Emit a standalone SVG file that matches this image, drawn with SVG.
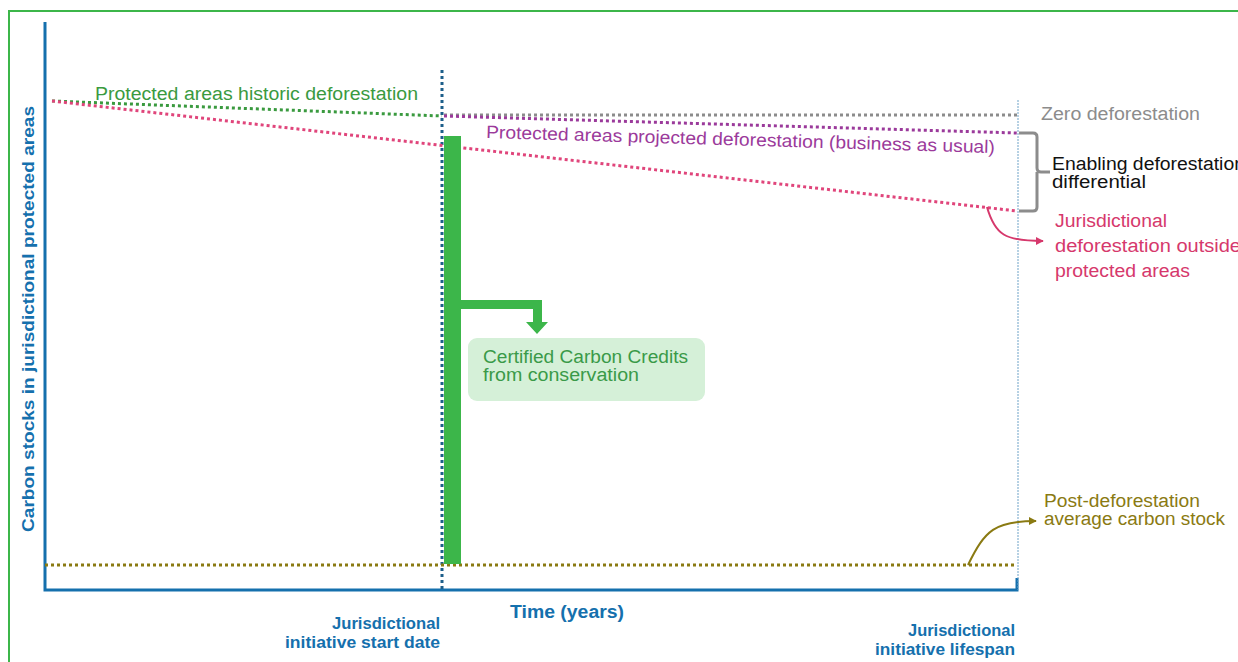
<svg xmlns="http://www.w3.org/2000/svg" width="1238" height="662" viewBox="0 0 1238 662">
<style>
text{font-family:"Liberation Sans",Arial,sans-serif}
.dot{fill:none;stroke-width:3;stroke-dasharray:3 3}
.ax{fill:none;stroke:#1570ad;stroke-width:3}
.blue{fill:#1570ad;font-weight:bold}
</style>
<defs>
<marker id="ap" viewBox="0 0 10 10" refX="9" refY="5" markerWidth="4" markerHeight="4" orient="auto"><path d="M0,0L10,5L0,10z" fill="#d6386c"/></marker>
<marker id="ao" viewBox="0 0 10 10" refX="9" refY="5" markerWidth="4" markerHeight="4" orient="auto"><path d="M0,0L10,5L0,10z" fill="#8a7a12"/></marker>
</defs>
<rect width="1238" height="662" fill="#fff"/>
<g id="frame"><path d="M9,662V11H1238" fill="none" stroke="#3cb64a" stroke-width="2"/></g>
<g id="axes">
<path class="ax" d="M45,22V590H1017V578"/>
<text class="blue" font-size="17" transform="translate(34,319) rotate(-90)" text-anchor="middle" textLength="426" lengthAdjust="spacingAndGlyphs">Carbon stocks in jurisdictional protected areas</text>
<text class="blue" font-size="18" x="567" y="618" text-anchor="middle" textLength="114" lengthAdjust="spacingAndGlyphs">Time (years)</text>
<text class="blue" font-size="16" text-anchor="end"><tspan x="440" y="629" textLength="108" lengthAdjust="spacingAndGlyphs">Jurisdictional</tspan><tspan x="440" y="648" textLength="155" lengthAdjust="spacingAndGlyphs">initiative start date</tspan></text>
<text class="blue" font-size="16" text-anchor="end"><tspan x="1015" y="636" textLength="107" lengthAdjust="spacingAndGlyphs">Jurisdictional</tspan><tspan x="1015" y="655" textLength="140" lengthAdjust="spacingAndGlyphs">initiative lifespan</tspan></text>
</g>
<g id="connectors">
<line x1="442" y1="70" x2="442" y2="590" stroke="#1d5f8a" stroke-width="3" stroke-dasharray="3 3"/>
<line x1="1018" y1="100" x2="1018" y2="590" stroke="#6fa3c8" stroke-width="1" stroke-dasharray="2 1"/>
<line class="dot" x1="52" y1="101" x2="442" y2="116" stroke="#3a9a3f"/>
<line class="dot" x1="444" y1="115" x2="1017" y2="115" stroke="#8c8c8c"/>
<line class="dot" x1="444" y1="116" x2="1017" y2="133" stroke="#9b3a9b"/>
<line class="dot" x1="52" y1="101" x2="1017" y2="211" stroke="#e0457b"/>
<line class="dot" x1="45" y1="565" x2="1017" y2="565" stroke="#8a7a12"/>
<path d="M1019,133H1033Q1037,133 1037,137V168Q1037,172 1041,172H1050M1037,172Q1037,176 1037,180V207Q1037,211 1033,211H1019" fill="none" stroke="#8c8c8c" stroke-width="3"/>
<path d="M987,207C995,235 1005,241 1043,241" fill="none" stroke="#d6386c" stroke-width="2" marker-end="url(#ap)"/>
<path d="M968,565C985,530 995,521 1036,521" fill="none" stroke="#8a7a12" stroke-width="2" marker-end="url(#ao)"/>
</g>
<g id="bar"><rect x="444" y="136" width="17" height="428" fill="#3cb64a"/>
<path d="M460,300H542V322H548L537,334L526,322H533V309H460z" fill="#3cb64a"/></g>
<g id="credits">
<rect x="468" y="338" width="237" height="63" rx="9" fill="#d5f0d8"/>
<text font-size="18" fill="#3a9a48"><tspan x="483" y="363" textLength="205" lengthAdjust="spacingAndGlyphs">Certified Carbon Credits</tspan><tspan x="483" y="381" textLength="156" lengthAdjust="spacingAndGlyphs">from conservation</tspan></text>
</g>
<g id="labels">
<text font-size="18" fill="#3a9a3f" x="95" y="100" textLength="323" lengthAdjust="spacingAndGlyphs">Protected areas historic deforestation</text>
<text font-size="18" fill="#9b3a9b" x="486" y="138" textLength="509" lengthAdjust="spacingAndGlyphs" transform="rotate(1.7 486 138)">Protected areas projected deforestation (business as usual)</text>
<text font-size="18" fill="#8c8c8c" x="1041" y="120" textLength="159" lengthAdjust="spacingAndGlyphs">Zero deforestation</text>
<text font-size="18" fill="#111"><tspan x="1052" y="170" textLength="193" lengthAdjust="spacingAndGlyphs">Enabling deforestation</tspan><tspan x="1052" y="188" textLength="94" lengthAdjust="spacingAndGlyphs">differential</tspan></text>
<text font-size="18" fill="#d6386c"><tspan x="1055" y="227" textLength="112" lengthAdjust="spacingAndGlyphs">Jurisdictional</tspan><tspan x="1055" y="252" textLength="186" lengthAdjust="spacingAndGlyphs">deforestation outside</tspan><tspan x="1055" y="277" textLength="135" lengthAdjust="spacingAndGlyphs">protected areas</tspan></text>
<text font-size="18" fill="#8a7a12"><tspan x="1044" y="507" textLength="156" lengthAdjust="spacingAndGlyphs">Post-deforestation</tspan><tspan x="1044" y="525" textLength="181" lengthAdjust="spacingAndGlyphs">average carbon stock</tspan></text>
</g>
</svg>
